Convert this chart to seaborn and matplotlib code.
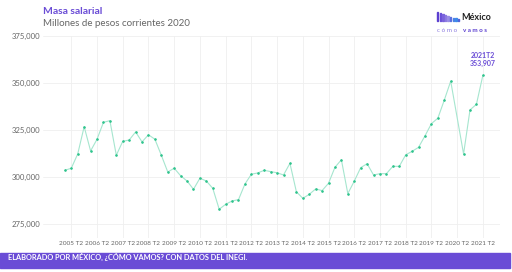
import matplotlib
matplotlib.use("Agg")
import matplotlib.pyplot as plt
from matplotlib.patches import Rectangle
import seaborn as sns
import pandas as pd
import numpy as np

# ---- data (2005T1 .. 2021T2, 2020T2 not published) ----
quarters = [f"{y}T{q}" for y in range(2005, 2022) for q in range(1, 5)][:66]
values = [
    303400, 304500, 312100, 326600,
    313700, 319900, 328900, 329800,
    311400, 318800, 319500, 323800,
    318500, 322300, 319900, 311400,
    302500, 304500, 300500, 297700,
    293300, 299200, 297700, 293800,
    282700, 285300, 287100, 287800,
    296100, 301300, 302000, 303400,
    302700, 302100, 300900, 307100,
    292000, 288500, 290600, 293500,
    292600, 296500, 305000, 309000,
    291000, 297600, 304800, 306900,
    300900, 301600, 301600, 305500,
    305500, 311600, 313500, 315600,
    321700, 328200, 331100, 340700,
    350800, None, 312100, 335500,
    338500, 353907,
]
tick_labels = [f"{y} T2" for y in range(2005, 2022)]
y_ticks = [275000, 300000, 325000, 350000, 375000]

df = pd.DataFrame({"quarter": quarters, "idx": range(len(quarters)), "valor": values})
df = df.dropna()

sns.set_theme(style="white")
plt.rcParams["font.family"] = ["Lato", "DejaVu Sans"]

fig = plt.figure(figsize=(5.12, 2.72), dpi=100)
ax = fig.add_axes([0.084, 0.125, 0.893, 0.744])

purple = "#6a4cd6"
sns.lineplot(data=df, x="idx", y="valor", ax=ax, color="#a6e6cf", linewidth=0.8,
             marker="o", markersize=1.1, markerfacecolor="#2fc48d",
             markeredgecolor="#2fc48d", zorder=3)

ax.set_xlim(-3.4, 67.7)
ax.set_ylim(267400, 375000)
ax.set_xticks(list(range(1, 66, 4)))
ax.set_xticklabels(tick_labels, fontsize=4.6, color="#666666")
ax.set_yticks(y_ticks)
ax.set_yticklabels([f"{v:,}" for v in y_ticks], fontsize=5.6, color="#666666")
ax.tick_params(axis="both", length=0, pad=2)
ax.set_xlabel("")
ax.set_ylabel("")
ax.grid(True, color="#efefef", linewidth=0.6)
for s in ax.spines.values():
    s.set_visible(False)

last = df.iloc[-1]
ax.text(last["idx"], last["valor"] + 4200, f"{int(last['valor']):,}", ha="center",
        va="bottom", fontsize=5, color=purple, fontweight="bold")
ax.text(last["idx"], last["valor"] + 8500, last["quarter"], ha="center",
        va="bottom", fontsize=5, color=purple, fontweight="bold")

# titles
fig.text(43 / 512, 1 - 12 / 272, "Masa salarial", fontsize=7.5, fontweight="bold",
         color=purple, va="center", ha="left")
fig.text(43 / 512, 1 - 23.5 / 272, "Millones de pesos corrientes 2020", fontsize=7,
         color="#666666", va="center", ha="left")

# logo
bar_heights = [9, 8, 7, 6, 5, 4, 3.5, 3, 2.5]
bar_cols = ["#5b3fd0", "#6a4fd8", "#7a62dc", "#8a78e0", "#9a8de6", "#5b6fe0", "#4b7fe6", "#3d8ae8", "#5060d8"]
xb = 437
for h, c in zip(bar_heights, bar_cols):
    fig.patches.append(Rectangle((xb / 512, 1 - 21 / 272), 1.3 / 512, h / 272,
                                 transform=fig.transFigure, color=c, zorder=5))
    xb += 2.6
fig.text(461 / 512, 1 - 17 / 272, "México", fontsize=6.5, fontweight="bold",
         color="#222222", va="center", ha="left")
fig.text(437 / 512, 1 - 30 / 272, "c ó m o ", fontsize=4.5, color="#8f7fe0",
         va="center", ha="left")
fig.text(463 / 512, 1 - 30 / 272, "v a m o s", fontsize=4.5, fontweight="bold",
         color="#5b3fd0", va="center", ha="left")

# footer
fig.patches.append(Rectangle((0, 4 / 272), 510 / 512, 15 / 272, transform=fig.transFigure,
                             color=purple, zorder=1))
fig.text(8 / 512, 1 - 256.5 / 272, "ELABORADO POR MÉXICO, ¿CÓMO VAMOS? CON DATOS DEL INEGI.",
         fontsize=5.3, fontweight="bold", color="white", va="center", ha="left", zorder=2)

fig.savefig("out.png", dpi=100)
